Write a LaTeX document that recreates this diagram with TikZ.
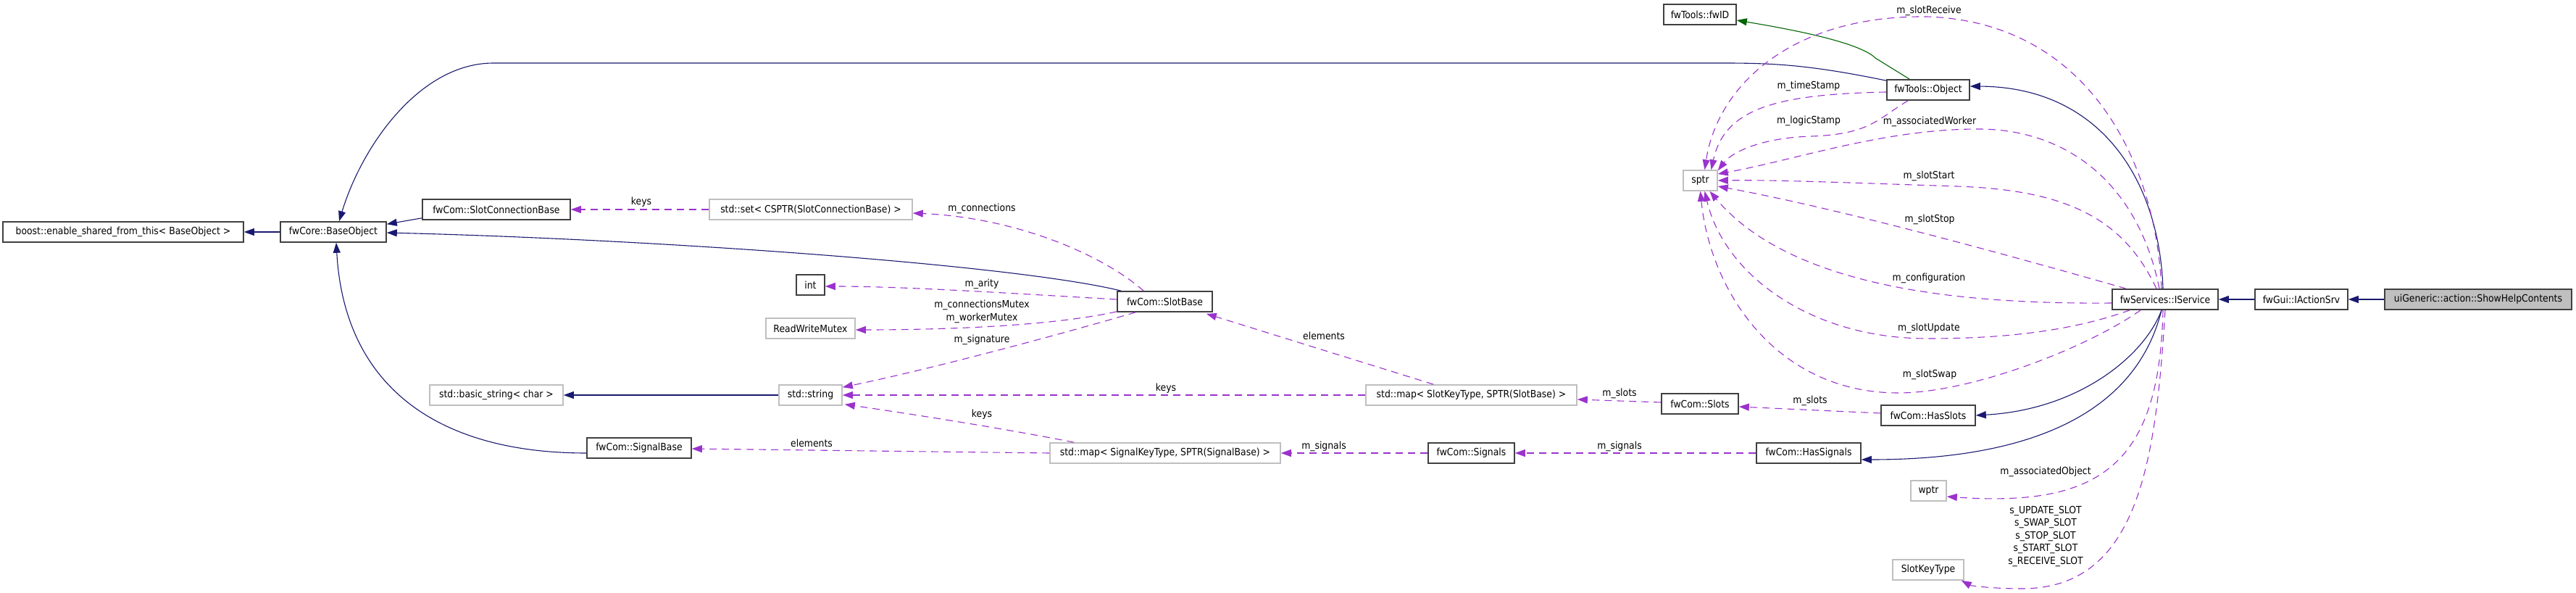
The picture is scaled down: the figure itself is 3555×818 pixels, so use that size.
\documentclass[tikz,border=0pt]{standalone}
\usepackage{fontspec}
\setmainfont{DejaVu Sans Condensed}
\usetikzlibrary{arrows.meta,calc}
\definecolor{inhc}{HTML}{191970}
\definecolor{usec}{HTML}{9A32CD}
\definecolor{grnc}{HTML}{006400}
\definecolor{bordc}{HTML}{404040}
\definecolor{extc}{HTML}{BFBFBF}
\begin{document}
\begin{tikzpicture}[x=1pt,y=-1pt,
  txt/.style={font=\fontsize{13.8}{17.5}\selectfont},
  cls/.style={txt,draw=bordc,line width=1.6pt,fill=white,minimum height=28pt,inner sep=0pt},
  ext/.style={cls,draw=extc},
  mainbox/.style={cls,fill=extc},
  lbl/.style={txt,inner sep=0pt,align=center},
  inh/.style={draw=inhc,line width=1.1pt,-{Triangle[length=14pt,width=10pt]}},
  grn/.style={inh,draw=grnc},
  use/.style={draw=usec,line width=1.1pt,dash pattern=on 10pt off 7pt,-{Triangle[length=14pt,width=10pt]}}
]
\useasboundingbox (0,0) rectangle (3555,818);

\node[cls, minimum width=332] (boost) at (170,320) {boost::enable\_shared\_from\_this< BaseObject >};
\node[cls, minimum width=146] (base) at (460,320) {fwCore::BaseObject};
\node[cls, minimum width=204] (scb) at (685,289) {fwCom::SlotConnectionBase};
\node[ext, minimum width=280] (sset) at (1119,289) {std::set< CSPTR(SlotConnectionBase) >};
\node[cls, minimum width=39] (int) at (1118.5,393) {int};
\node[ext, minimum width=123] (rwm) at (1118.5,453) {ReadWriteMutex};
\node[ext, minimum width=184] (bstr) at (685,545) {std::basic\_string< char >};
\node[ext, minimum width=87] (str) at (1118.5,545) {std::string};
\node[cls, minimum width=144] (sigbase) at (882,618) {fwCom::SignalBase};
\node[cls, minimum width=131] (slotbase) at (1607.5,416) {fwCom::SlotBase};
\node[ext, minimum width=318] (mapsig) at (1608,625) {std::map< SignalKeyType, SPTR(SignalBase) >};
\node[ext, minimum width=291] (mapslot) at (2030.5,545) {std::map< SlotKeyType, SPTR(SlotBase) >};
\node[cls, minimum width=106] (slots) at (2346,557) {fwCom::Slots};
\node[cls, minimum width=119] (signals) at (2030.5,625) {fwCom::Signals};
\node[cls, minimum width=144] (hassig) at (2496,625) {fwCom::HasSignals};
\node[cls, minimum width=130] (hasslots) at (2661,573) {fwCom::HasSlots};
\node[ext, minimum width=47] (sptr) at (2346.5,249) {sptr};
\node[cls, minimum width=100] (fwid) at (2346,20) {fwTools::fwID};
\node[cls, minimum width=114] (object) at (2661,124) {fwTools::Object};
\node[cls, minimum width=146] (isvc) at (2988,413) {fwServices::IService};
\node[cls, minimum width=128] (iact) at (3176,413) {fwGui::IActionSrv};
\node[mainbox, minimum width=258] (show) at (3420,413) {uiGeneric::action::ShowHelpContents};
\node[ext, minimum width=49] (wptr) at (2661.5,677) {wptr};
\node[ext, minimum width=98] (skt) at (2661,786) {SlotKeyType};

% inheritance
\draw[inh] (base) -- (boost);
\draw[inh] ($(scb.south west)+(0,-3)$) -- ($(base.north east)+(0,4)$);
\draw[inh] ($(slotbase.north west)+(6,0)$) .. controls (1400,365) and (900,330) .. ($(base.east)+(0,1)$);
\draw[inh] ($(object.north west)+(0,2)$) .. controls (2500,90) and (2450,87) .. (2379,87) -- (681,87) .. controls (580,87) and (500,200) .. ($(base.north)+(8,0)$);
\draw[grn] ($(object.north west)+(32,0)$) -- (2588,80) .. controls (2570,62) and (2500,45) .. ($(fwid.east)+(0,8)$);
\draw[inh] ($(isvc.north)+(-3,0)$) .. controls (2980,250) and (2900,120) .. ($(object.east)+(0,-5)$);
\draw[inh] (iact) -- (isvc);
\draw[inh] (show) -- (iact);
\draw[inh] ($(isvc.south)+(-5,0)$) .. controls (2960,490) and (2870,565) .. (hasslots.east);
\draw[inh] ($(isvc.south)+(-5,0)$) .. controls (2950,560) and (2820,634) .. ($(hassig.east)+(0,9)$);
\draw[inh] (str) -- (bstr);
\draw[inh] ($(sigbase.west)+(0,7)$) .. controls (600,625) and (475,530) .. ($(base.south)+(4,0)$);

% usage
\draw[use] (sset) -- (scb);
\node[lbl] (l1) at (885,279) {keys};
\draw[use] ($(slotbase.north west)+(37,0)$) .. controls (1520,350) and (1400,300) .. ($(sset.east)+(0,5)$);
\node[lbl] (l2) at (1355,288) {m\_connections};
\draw[use] ($(slotbase.west)+(0,-3)$) .. controls (1400,405) and (1250,395) .. ($(int.east)+(0,2)$);
\node[lbl] (l3) at (1355,392) {m\_arity};
\draw[use] ($(slotbase.south west)+(0,-1)$) .. controls (1450,450) and (1300,455) .. ($(rwm.east)+(0,2)$);
\node[lbl] (l4) at (1355,430) {m\_connectionsMutex\\m\_workerMutex};
\draw[use] ($(slotbase.south west)+(26,0)$) .. controls (1450,465) and (1280,510) .. ($(str.north east)+(0,4)$);
\node[lbl] (l5) at (1355,469) {m\_signature};
\draw[use] (mapslot) -- (str);
\node[lbl] (l6) at (1609,536) {keys};
\draw[use] ($(mapslot.north west)+(94,0)$) -- ($(slotbase.south east)+(-9,2)$);
\node[lbl] (l7) at (1827,463) {elements};
\draw[use] ($(mapsig.north west)+(34,0)$) .. controls (1380,590) and (1250,570) .. ($(str.south east)+(3,-2)$);
\node[lbl] (l8) at (1355,572) {keys};
\draw[use] (mapsig.west) -- ($(sigbase.east)+(0,1)$);
\node[lbl] (l9) at (1120,611) {elements};
\draw[use] ($(slots.west)+(0,-2)$) -- ($(mapslot.east)+(0,6)$);
\node[lbl] (l10) at (2235,543) {m\_slots};
\draw[use] (signals) -- (mapsig);
\node[lbl] (l11) at (1827,616) {m\_signals};
\draw[use] ($(hasslots.west)+(0,-3)$) -- ($(slots.east)+(0,4)$);
\node[lbl] (l12) at (2498,553) {m\_slots};
\draw[use] (hassig) -- (signals);
\node[lbl] (l13) at (2235,616) {m\_signals};

% to sptr
\draw[use] ($(isvc.north)+(-5,0)$) .. controls (2975,220) and (2880,30) .. (2659,23) .. controls (2470,21) and (2370,120) .. ($(sptr.north)+(6,0)$);
\node[lbl] (l14) at (2662,15) {m\_slotReceive};
\draw[use] ($(object.west)+(0,3)$) .. controls (2450,130) and (2380,150) .. ($(sptr.north)+(15,0)$);
\node[lbl] (l15) at (2496,119) {m\_timeStamp};
\draw[use] ($(object.south west)+(30,0)$) .. controls (2590,165) and (2580,185) .. (2500,188) .. controls (2430,190) and (2390,210) .. ($(sptr.north east)+(0,1)$);
\node[lbl] (l16) at (2496,167) {m\_logicStamp};
\draw[use] ($(isvc.north)+(-8,0)$) .. controls (2950,250) and (2850,178) .. (2730,178) .. controls (2600,178) and (2480,220) .. ($(sptr.east)+(0,-9)$);
\node[lbl] (l17) at (2663,168) {m\_associatedWorker};
\draw[use] ($(isvc.north)+(-12,0)$) .. controls (2930,300) and (2850,262) .. (2700,257) .. controls (2550,252) and (2450,248) .. (sptr.east);
\node[lbl] (l18) at (2662,243) {m\_slotStart};
\draw[use] ($(isvc.north west)+(20,0)$) .. controls (2800,360) and (2550,290) .. ($(sptr.east)+(0,8)$);
\node[lbl] (l19) at (2663,303) {m\_slotStop};
\draw[use] ($(isvc.west)+(0,5)$) .. controls (2700,420) and (2470,395) .. ($(sptr.south)+(13,0)$);
\node[lbl] (l20) at (2662,384) {m\_configuration};
\draw[use] ($(isvc.south west)+(25,0)$) .. controls (2850,460) and (2750,467) .. (2660,467) .. controls (2500,467) and (2380,380) .. ($(sptr.south)+(6,0)$);
\node[lbl] (l21) at (2662,453) {m\_slotUpdate};
\draw[use] ($(isvc.south west)+(40,0)$) .. controls (2880,480) and (2720,542) .. (2620,542) .. controls (2450,542) and (2360,400) .. (sptr.south);
\node[lbl] (l22) at (2663,517) {m\_slotSwap};

% to wptr and SlotKeyType
\draw[use] ($(isvc.south)+(-3,0)$) .. controls (2980,640) and (2900,700) .. ($(wptr.east)+(0,8)$);
\node[lbl] (l23) at (2823,651) {m\_associatedObject};
\draw[use] (isvc.south) .. controls (2975,640) and (2950,812) .. (2790,812) .. controls (2750,812) and (2720,808) .. ($(skt.south east)+(-4,0)$);
\node[lbl] (l24) at (2823,740) {s\_UPDATE\_SLOT\\s\_SWAP\_SLOT\\s\_STOP\_SLOT\\s\_START\_SLOT\\s\_RECEIVE\_SLOT};
\end{tikzpicture}
\end{document}
